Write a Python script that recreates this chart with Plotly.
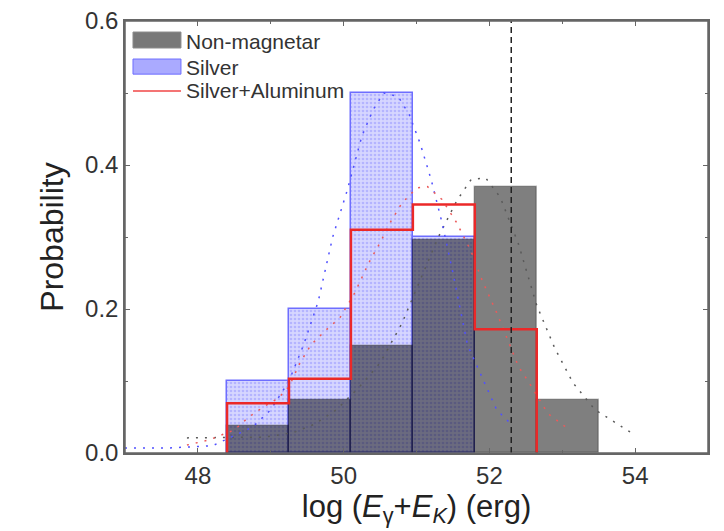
import plotly.graph_objects as go

# ---------------- data ----------------
bin_edges = [48.4, 49.25, 50.1, 50.95, 51.8, 52.65, 53.5]
non_magnetar = [0.037, 0.074, 0.148, 0.296, 0.370, 0.074]
silver = [0.10, 0.20, 0.50, 0.30]
silver_al = [0.069, 0.103, 0.310, 0.345, 0.172]
reference_line = 52.3

fit_gray_x = [47.85, 48.4, 48.9, 49.3, 49.6, 49.9, 50.2, 50.5, 50.8, 51.05, 51.3, 51.55,
              51.75, 51.95, 52.15, 52.4, 52.65, 52.9, 53.15, 53.45, 53.95]
fit_gray_y = [0.021, 0.021, 0.022, 0.028, 0.04, 0.06, 0.09, 0.125, 0.18, 0.24, 0.30, 0.35,
              0.38, 0.382, 0.355, 0.29, 0.205, 0.145, 0.097, 0.06, 0.028]
fit_blue_x = [47.0, 47.6, 48.2, 48.45, 48.75, 49.0, 49.25, 49.45, 49.65, 49.85, 50.05, 50.25,
              50.4, 50.55, 50.75, 50.9, 51.05, 51.2, 51.35, 51.5, 51.7, 51.9, 52.1, 52.3]
fit_blue_y = [0.007, 0.007, 0.01, 0.022, 0.036, 0.06, 0.10, 0.15, 0.21, 0.30, 0.365, 0.44,
              0.476, 0.50, 0.495, 0.47, 0.43, 0.38, 0.32, 0.25, 0.15, 0.105, 0.06, 0.04]
fit_red_x = [47.85, 48.15, 48.5, 48.7, 48.9, 49.1, 49.25, 49.4, 49.55, 49.75, 49.95, 50.15,
             50.35, 50.5, 50.65, 50.8, 51.0, 51.15, 51.35, 51.55, 51.75, 51.9, 52.1, 52.25,
             52.4, 52.55, 52.8, 53.05]
fit_red_y = [0.011, 0.018, 0.032, 0.05, 0.064, 0.076, 0.092, 0.125, 0.15, 0.17, 0.188, 0.222,
             0.265, 0.292, 0.322, 0.347, 0.368, 0.37, 0.352, 0.32, 0.28, 0.24, 0.195, 0.157,
             0.12, 0.097, 0.055, 0.036]

x_ticks = [48, 50, 52, 54]
y_ticks = [0.0, 0.2, 0.4, 0.6]

# ---------------- figure ----------------
def centers(n):
    return [(bin_edges[i] + bin_edges[i + 1]) / 2 for i in range(n)]

def widths(n):
    return [bin_edges[i + 1] - bin_edges[i] for i in range(n)]

FONT = "Liberation Sans, Arial, sans-serif"
fig = go.Figure()

fig.add_trace(go.Bar(
    x=centers(len(silver)), y=silver, width=widths(len(silver)),
    marker=dict(color="rgb(214,214,255)",
                line=dict(color="rgb(110,110,255)", width=1.5),
                pattern=dict(shape=".", fgcolor="rgba(90,90,255,0.55)",
                             bgcolor="rgb(214,214,255)", size=4, solidity=0.35)),
    showlegend=False, name="Silver"))

fig.add_trace(go.Bar(
    x=centers(len(non_magnetar)), y=non_magnetar, width=widths(len(non_magnetar)),
    marker=dict(color="rgba(0,0,0,0.5)",
                line=dict(color="rgba(0,0,0,0.25)", width=1.5)),
    showlegend=False, name="Non-magnetar"))

fig.add_trace(go.Scatter(x=fit_gray_x, y=fit_gray_y, mode="lines",
                         line=dict(color="rgb(90,90,90)", width=1.5, dash="2px,7px"),
                         showlegend=False))
fig.add_trace(go.Scatter(x=fit_blue_x, y=fit_blue_y, mode="lines",
                         line=dict(color="rgb(80,80,255)", width=1.5, dash="2px,7px"),
                         showlegend=False))
fig.add_trace(go.Scatter(x=fit_red_x, y=fit_red_y, mode="lines",
                         line=dict(color="rgb(235,90,90)", width=1.5, dash="2px,7px"),
                         showlegend=False))

step_x = [bin_edges[0]] + bin_edges[:len(silver_al) + 1]
step_y = [0] + silver_al + [0]
fig.add_trace(go.Scatter(x=step_x, y=step_y, mode="lines", line_shape="hv",
                         line=dict(color="rgb(235,40,40)", width=2.5),
                         showlegend=False, name="Silver+Aluminum"))

fig.add_shape(type="line", xref="x", yref="paper", x0=reference_line, x1=reference_line,
              y0=0, y1=1, line=dict(color="#222", width=1.5, dash="6px,4px"))

# plot frame
fig.add_shape(type="rect", xref="paper", yref="paper", x0=0, x1=1, y0=0, y1=1,
              line=dict(color="#666", width=1.5), fillcolor="rgba(0,0,0,0)", layer="above")

# manual legend
leg_font = dict(family=FONT, size=21, color="#333")
fig.add_shape(type="rect", xref="paper", yref="paper", x0=0.0137, x1=0.096,
              y0=0.9375, y1=0.9745, fillcolor="rgb(120,120,120)",
              line=dict(color="rgb(140,140,140)", width=1))
fig.add_shape(type="rect", xref="paper", yref="paper", x0=0.0137, x1=0.096,
              y0=0.877, y1=0.912, fillcolor="rgb(170,170,255)",
              line=dict(color="rgb(110,110,255)", width=1))
fig.add_shape(type="line", xref="paper", yref="paper", x0=0.0137, x1=0.096,
              y0=0.838, y1=0.838, line=dict(color="rgb(240,70,70)", width=1.5))
for yy, txt in [(0.9535, "Non-magnetar"), (0.8935, "Silver"), (0.840, "Silver+Aluminum")]:
    fig.add_annotation(xref="paper", yref="paper", x=0.102, y=yy, text=txt,
                       showarrow=False, xanchor="left", yanchor="middle", font=leg_font)

axis_common = dict(showline=True, linecolor="#666", linewidth=1.5, mirror="allticks",
                   ticks="inside", ticklen=5, tickcolor="#666", showgrid=False,
                   zeroline=False, automargin=False, ticklabeloverflow="allow",
                   tickfont=dict(family=FONT, size=24, color="#333"))

fig.update_layout(
    width=716, height=523,
    margin=dict(l=117, r=16, t=13, b=78),
    paper_bgcolor="white", plot_bgcolor="white",
    barmode="overlay", bargap=0,
    xaxis=dict(range=[47, 55], tickvals=x_ticks, ticktext=[str(v) for v in x_ticks],
               minor=dict(dtick=1, ticks="inside", ticklen=3, tickcolor="#666"),
               title=dict(text="log (<i>E</i><sub>γ</sub>+<i>E</i><sub><i>K</i></sub>) (erg)",
                          font=dict(family=FONT, size=31, color="#222"), standoff=6),
               **axis_common),
    yaxis=dict(range=[0, 0.6], tickvals=y_ticks, ticktext=[f"{v:.1f}" for v in y_ticks],
               minor=dict(dtick=0.1, ticks="inside", ticklen=3, tickcolor="#666"),
               title=dict(text="Probability",
                          font=dict(family=FONT, size=32, color="#222"), standoff=12),
               **axis_common),
)

fig.write_html("out.html")
